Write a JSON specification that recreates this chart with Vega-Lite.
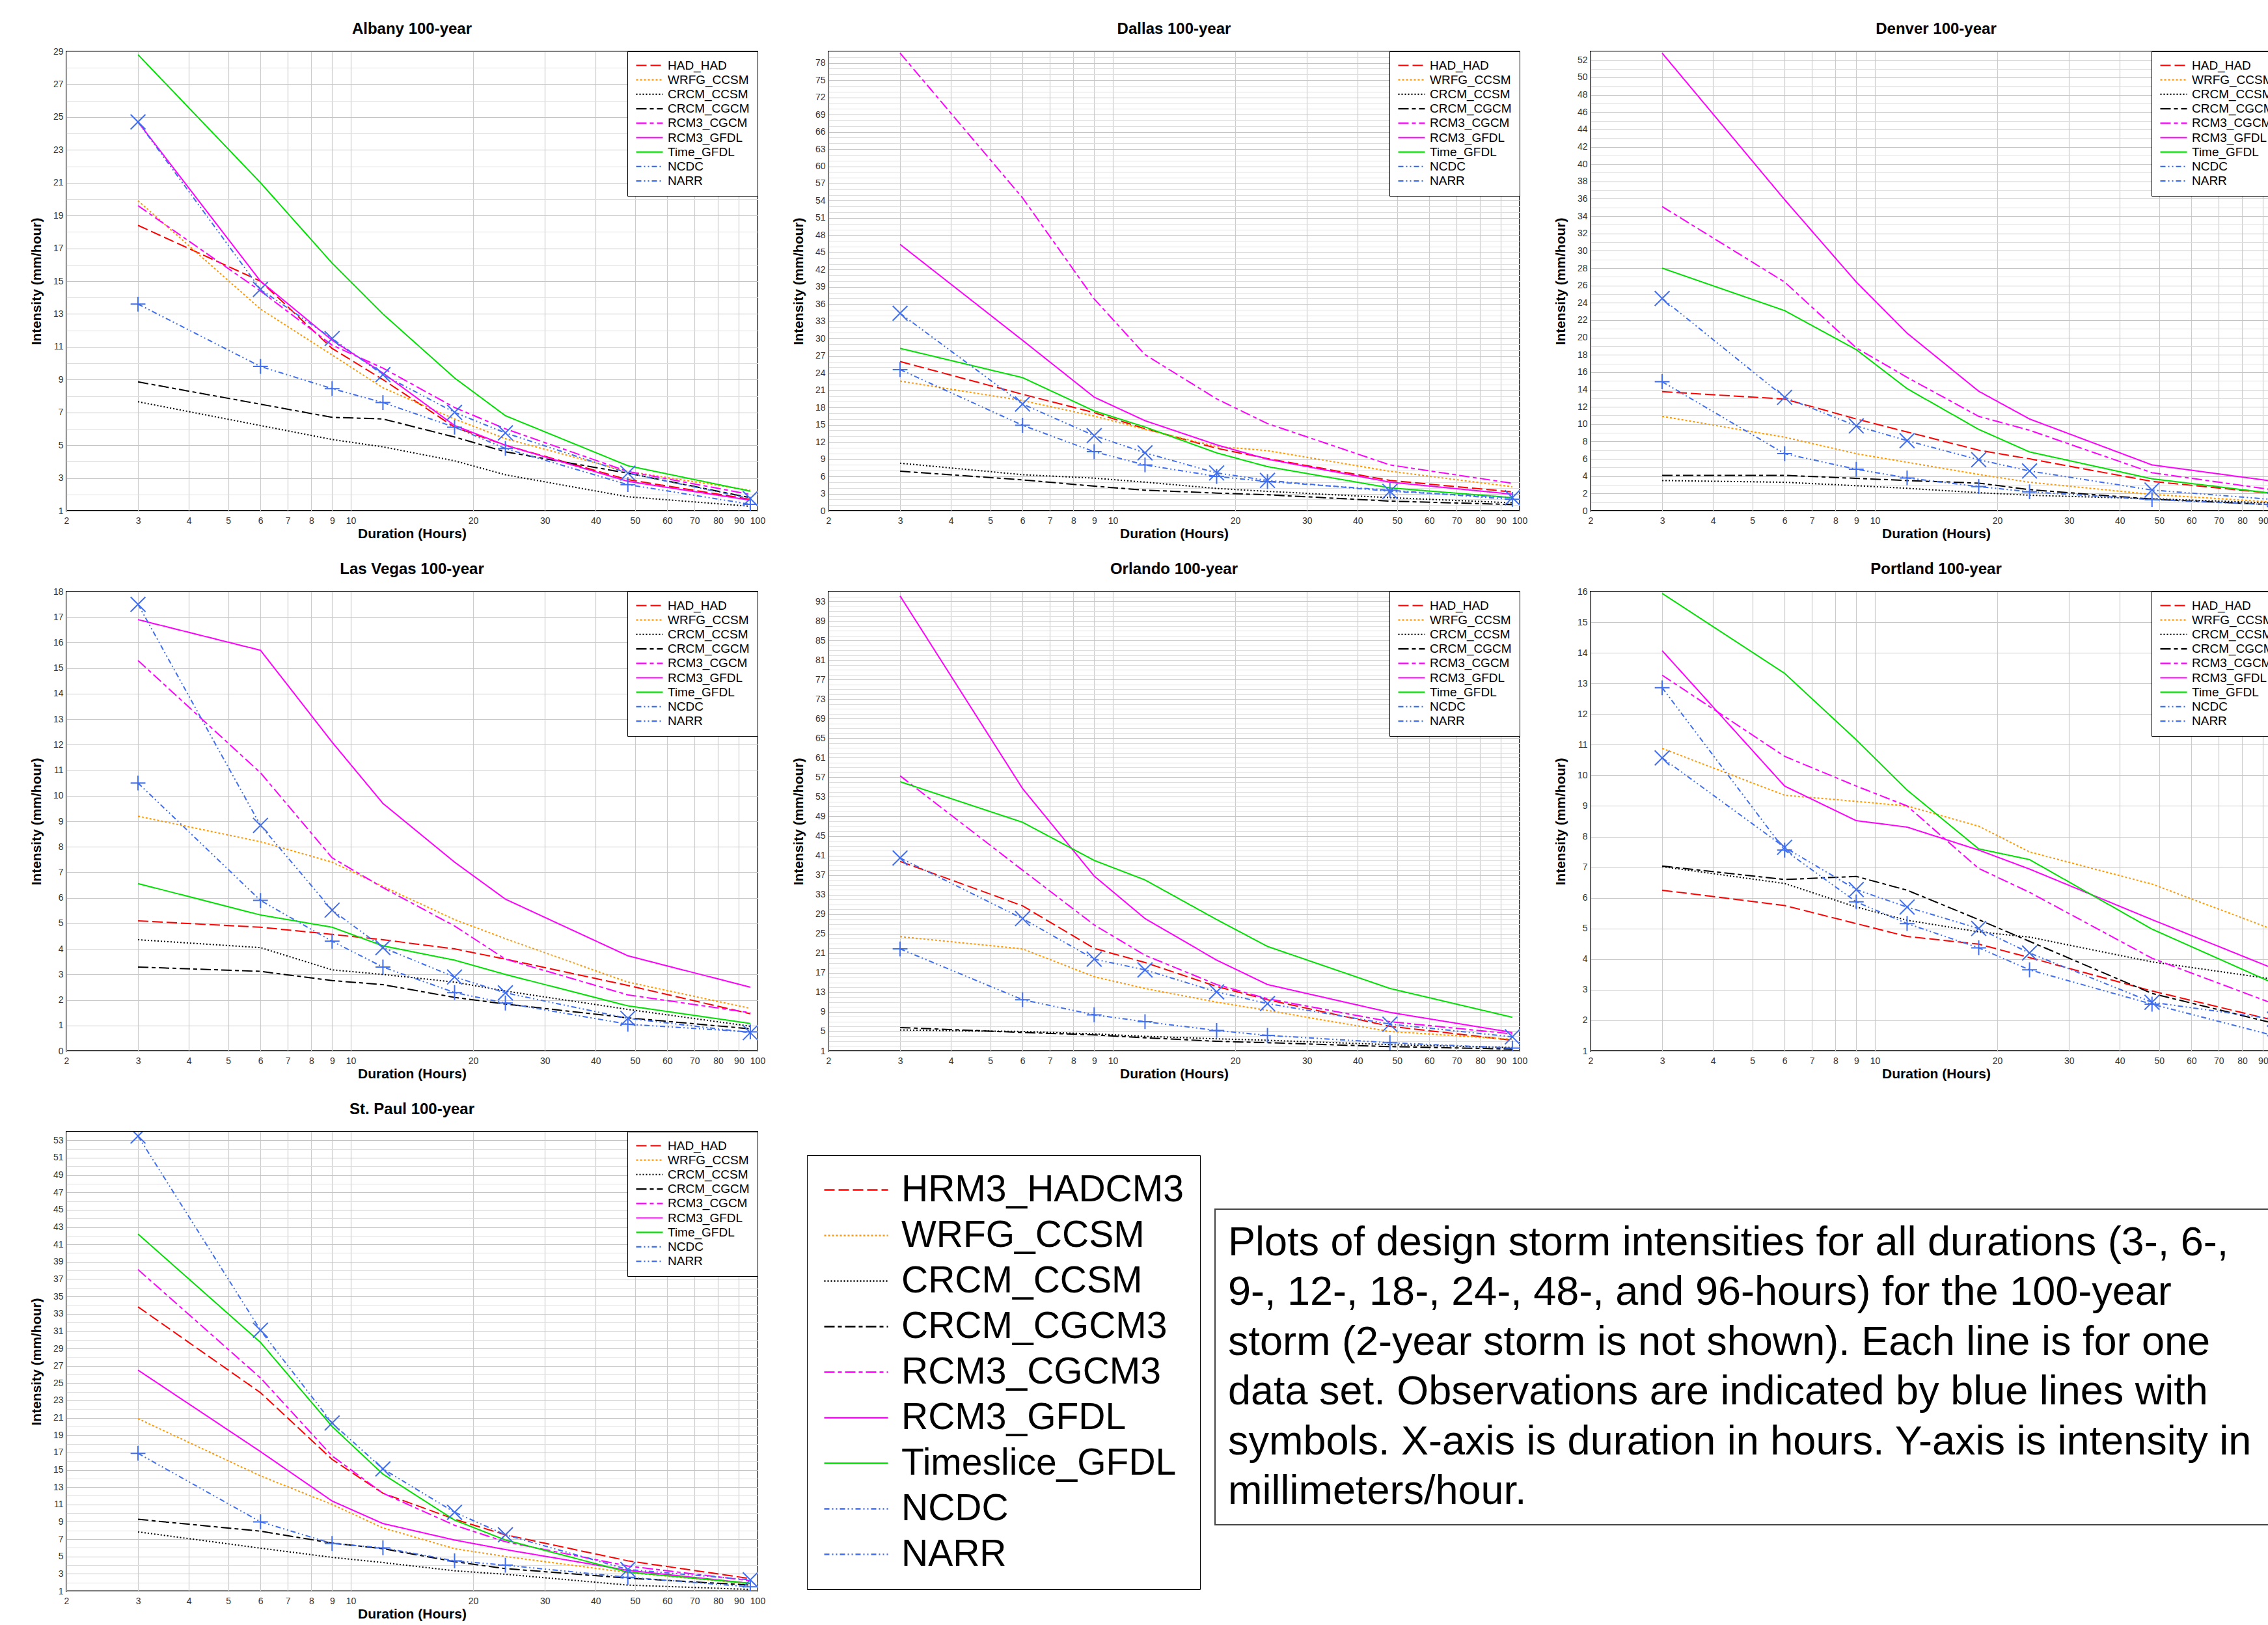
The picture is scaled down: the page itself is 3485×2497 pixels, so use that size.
{
"$schema": "https://vega.github.io/schema/vega-lite/v6.json",
"background": "white",
"padding": {"left": 44, "top": 32, "right": 0, "bottom": 0},
"config": {
  "font": "Liberation Sans",
  "view": {"stroke": "black", "strokeWidth": 2},
  "title": {"fontSize": 24, "fontWeight": "bold", "offset": 15, "frame": "group", "color": "black", "font": "Liberation Sans"},
  "axis": {"labelFontSize": 14, "labelColor": "#333333", "labelFont": "Liberation Sans", "titleFont": "Liberation Sans", "titleFontSize": 21, "titleFontWeight": "bold", "titleColor": "black", "ticks": false, "tickSize": 0, "domain": false, "gridColor": "#cccccc", "gridWidth": 1.2, "labelOverlap": false},
  "axisX": {"labelPadding": 8, "titlePadding": 2},
  "axisY": {"labelPadding": 5, "titlePadding": 11, "minExtent": 25, "maxExtent": 25},
  "legend": {"labelFont": "Liberation Sans", "labelColor": "black"}
},
"datasets": {
"names": [{"name":"HRM3_HADCM3"},{"name":"WRFG_CCSM"},{"name":"CRCM_CCSM"},{"name":"CRCM_CGCM3"},{"name":"RCM3_CGCM3"},{"name":"RCM3_GFDL"},{"name":"Timeslice_GFDL"},{"name":"NCDC"},{"name":"NARR"}],
"caption": [{"t": ["Plots of design storm intensities for all durations (3-, 6-,", "9-, 12-, 18-, 24-, 48-, and 96-hours) for the 100-year", "storm (2-year storm is not shown). Each line is for one", "data set. Observations are indicated by blue lines with", "symbols. X-axis is duration in hours. Y-axis is intensity in", "millimeters/hour."]}],
"storm": [
{"c":"Albany","s":"HAD_HAD","d":3,"v":18.4},{"c":"Albany","s":"HAD_HAD","d":6,"v":15.0},{"c":"Albany","s":"HAD_HAD","d":9,"v":10.9},{"c":"Albany","s":"HAD_HAD","d":12,"v":9.0},{"c":"Albany","s":"HAD_HAD","d":18,"v":6.1},{"c":"Albany","s":"HAD_HAD","d":24,"v":5.0},{"c":"Albany","s":"HAD_HAD","d":48,"v":2.9},{"c":"Albany","s":"HAD_HAD","d":96,"v":1.7},
{"c":"Albany","s":"WRFG_CCSM","d":3,"v":19.9},{"c":"Albany","s":"WRFG_CCSM","d":6,"v":13.3},{"c":"Albany","s":"WRFG_CCSM","d":9,"v":10.5},{"c":"Albany","s":"WRFG_CCSM","d":12,"v":8.5},{"c":"Albany","s":"WRFG_CCSM","d":18,"v":6.6},{"c":"Albany","s":"WRFG_CCSM","d":24,"v":5.4},{"c":"Albany","s":"WRFG_CCSM","d":48,"v":3.4},{"c":"Albany","s":"WRFG_CCSM","d":96,"v":2.25},
{"c":"Albany","s":"CRCM_CCSM","d":3,"v":7.65},{"c":"Albany","s":"CRCM_CCSM","d":6,"v":6.2},{"c":"Albany","s":"CRCM_CCSM","d":9,"v":5.35},{"c":"Albany","s":"CRCM_CCSM","d":12,"v":4.9},{"c":"Albany","s":"CRCM_CCSM","d":18,"v":4.05},{"c":"Albany","s":"CRCM_CCSM","d":24,"v":3.2},{"c":"Albany","s":"CRCM_CCSM","d":48,"v":1.86},{"c":"Albany","s":"CRCM_CCSM","d":96,"v":1.28},
{"c":"Albany","s":"CRCM_CGCM","d":3,"v":8.86},{"c":"Albany","s":"CRCM_CGCM","d":6,"v":7.5},{"c":"Albany","s":"CRCM_CGCM","d":9,"v":6.7},{"c":"Albany","s":"CRCM_CGCM","d":12,"v":6.6},{"c":"Albany","s":"CRCM_CGCM","d":18,"v":5.5},{"c":"Albany","s":"CRCM_CGCM","d":24,"v":4.6},{"c":"Albany","s":"CRCM_CGCM","d":48,"v":3.3},{"c":"Albany","s":"CRCM_CGCM","d":96,"v":1.8},
{"c":"Albany","s":"RCM3_CGCM","d":3,"v":19.6},{"c":"Albany","s":"RCM3_CGCM","d":6,"v":14.4},{"c":"Albany","s":"RCM3_CGCM","d":9,"v":11.1},{"c":"Albany","s":"RCM3_CGCM","d":12,"v":9.7},{"c":"Albany","s":"RCM3_CGCM","d":18,"v":7.3},{"c":"Albany","s":"RCM3_CGCM","d":24,"v":6.0},{"c":"Albany","s":"RCM3_CGCM","d":48,"v":3.4},{"c":"Albany","s":"RCM3_CGCM","d":96,"v":2.0},
{"c":"Albany","s":"RCM3_GFDL","d":3,"v":24.7},{"c":"Albany","s":"RCM3_GFDL","d":6,"v":15.0},{"c":"Albany","s":"RCM3_GFDL","d":9,"v":11.4},{"c":"Albany","s":"RCM3_GFDL","d":12,"v":9.4},{"c":"Albany","s":"RCM3_GFDL","d":18,"v":6.2},{"c":"Albany","s":"RCM3_GFDL","d":24,"v":5.0},{"c":"Albany","s":"RCM3_GFDL","d":48,"v":2.8},{"c":"Albany","s":"RCM3_GFDL","d":96,"v":1.65},
{"c":"Albany","s":"Time_GFDL","d":3,"v":28.8},{"c":"Albany","s":"Time_GFDL","d":6,"v":21.0},{"c":"Albany","s":"Time_GFDL","d":9,"v":16.1},{"c":"Albany","s":"Time_GFDL","d":12,"v":13.0},{"c":"Albany","s":"Time_GFDL","d":18,"v":9.1},{"c":"Albany","s":"Time_GFDL","d":24,"v":6.8},{"c":"Albany","s":"Time_GFDL","d":48,"v":3.75},{"c":"Albany","s":"Time_GFDL","d":96,"v":2.2},
{"c":"Albany","s":"NCDC","d":3,"v":24.7},{"c":"Albany","s":"NCDC","d":6,"v":14.5},{"c":"Albany","s":"NCDC","d":9,"v":11.5},{"c":"Albany","s":"NCDC","d":12,"v":9.3},{"c":"Albany","s":"NCDC","d":18,"v":7.0},{"c":"Albany","s":"NCDC","d":24,"v":5.75},{"c":"Albany","s":"NCDC","d":48,"v":3.3},{"c":"Albany","s":"NCDC","d":96,"v":1.75},
{"c":"Albany","s":"NARR","d":3,"v":13.6},{"c":"Albany","s":"NARR","d":6,"v":9.8},{"c":"Albany","s":"NARR","d":9,"v":8.45},{"c":"Albany","s":"NARR","d":12,"v":7.6},{"c":"Albany","s":"NARR","d":18,"v":6.1},{"c":"Albany","s":"NARR","d":24,"v":4.8},{"c":"Albany","s":"NARR","d":48,"v":2.6},{"c":"Albany","s":"NARR","d":96,"v":1.4},

{"c":"Dallas","s":"HAD_HAD","d":3,"v":26.0},{"c":"Dallas","s":"HAD_HAD","d":6,"v":20.3},{"c":"Dallas","s":"HAD_HAD","d":9,"v":17.1},{"c":"Dallas","s":"HAD_HAD","d":12,"v":14.3},{"c":"Dallas","s":"HAD_HAD","d":18,"v":10.9},{"c":"Dallas","s":"HAD_HAD","d":24,"v":9.1},{"c":"Dallas","s":"HAD_HAD","d":48,"v":5.3},{"c":"Dallas","s":"HAD_HAD","d":96,"v":3.3},
{"c":"Dallas","s":"WRFG_CCSM","d":3,"v":22.6},{"c":"Dallas","s":"WRFG_CCSM","d":6,"v":19.2},{"c":"Dallas","s":"WRFG_CCSM","d":9,"v":16.5},{"c":"Dallas","s":"WRFG_CCSM","d":12,"v":14.2},{"c":"Dallas","s":"WRFG_CCSM","d":18,"v":11.2},{"c":"Dallas","s":"WRFG_CCSM","d":24,"v":10.5},{"c":"Dallas","s":"WRFG_CCSM","d":48,"v":6.9},{"c":"Dallas","s":"WRFG_CCSM","d":96,"v":4.2},
{"c":"Dallas","s":"CRCM_CCSM","d":3,"v":8.3},{"c":"Dallas","s":"CRCM_CCSM","d":6,"v":6.3},{"c":"Dallas","s":"CRCM_CCSM","d":9,"v":5.7},{"c":"Dallas","s":"CRCM_CCSM","d":12,"v":5.0},{"c":"Dallas","s":"CRCM_CCSM","d":18,"v":3.9},{"c":"Dallas","s":"CRCM_CCSM","d":24,"v":3.4},{"c":"Dallas","s":"CRCM_CCSM","d":48,"v":2.3},{"c":"Dallas","s":"CRCM_CCSM","d":96,"v":1.4},
{"c":"Dallas","s":"CRCM_CGCM","d":3,"v":6.9},{"c":"Dallas","s":"CRCM_CGCM","d":6,"v":5.4},{"c":"Dallas","s":"CRCM_CGCM","d":9,"v":4.3},{"c":"Dallas","s":"CRCM_CGCM","d":12,"v":3.6},{"c":"Dallas","s":"CRCM_CGCM","d":18,"v":3.1},{"c":"Dallas","s":"CRCM_CGCM","d":24,"v":2.8},{"c":"Dallas","s":"CRCM_CGCM","d":48,"v":1.7},{"c":"Dallas","s":"CRCM_CGCM","d":96,"v":1.1},
{"c":"Dallas","s":"RCM3_CGCM","d":3,"v":79.7},{"c":"Dallas","s":"RCM3_CGCM","d":6,"v":54.5},{"c":"Dallas","s":"RCM3_CGCM","d":9,"v":36.9},{"c":"Dallas","s":"RCM3_CGCM","d":12,"v":27.2},{"c":"Dallas","s":"RCM3_CGCM","d":18,"v":19.5},{"c":"Dallas","s":"RCM3_CGCM","d":24,"v":15.2},{"c":"Dallas","s":"RCM3_CGCM","d":48,"v":8.0},{"c":"Dallas","s":"RCM3_CGCM","d":96,"v":4.8},
{"c":"Dallas","s":"RCM3_GFDL","d":3,"v":46.4},{"c":"Dallas","s":"RCM3_GFDL","d":6,"v":29.7},{"c":"Dallas","s":"RCM3_GFDL","d":9,"v":19.8},{"c":"Dallas","s":"RCM3_GFDL","d":12,"v":15.7},{"c":"Dallas","s":"RCM3_GFDL","d":18,"v":11.5},{"c":"Dallas","s":"RCM3_GFDL","d":24,"v":9.0},{"c":"Dallas","s":"RCM3_GFDL","d":48,"v":5.0},{"c":"Dallas","s":"RCM3_GFDL","d":96,"v":2.9},
{"c":"Dallas","s":"Time_GFDL","d":3,"v":28.3},{"c":"Dallas","s":"Time_GFDL","d":6,"v":23.2},{"c":"Dallas","s":"Time_GFDL","d":9,"v":17.4},{"c":"Dallas","s":"Time_GFDL","d":12,"v":14.6},{"c":"Dallas","s":"Time_GFDL","d":18,"v":10.1},{"c":"Dallas","s":"Time_GFDL","d":24,"v":7.7},{"c":"Dallas","s":"Time_GFDL","d":48,"v":4.0},{"c":"Dallas","s":"Time_GFDL","d":96,"v":2.3},
{"c":"Dallas","s":"NCDC","d":3,"v":34.4},{"c":"Dallas","s":"NCDC","d":6,"v":18.6},{"c":"Dallas","s":"NCDC","d":9,"v":13.1},{"c":"Dallas","s":"NCDC","d":12,"v":10.1},{"c":"Dallas","s":"NCDC","d":18,"v":6.6},{"c":"Dallas","s":"NCDC","d":24,"v":5.3},{"c":"Dallas","s":"NCDC","d":48,"v":3.4},{"c":"Dallas","s":"NCDC","d":96,"v":2.3},
{"c":"Dallas","s":"NARR","d":3,"v":24.6},{"c":"Dallas","s":"NARR","d":6,"v":14.9},{"c":"Dallas","s":"NARR","d":9,"v":10.3},{"c":"Dallas","s":"NARR","d":12,"v":8.0},{"c":"Dallas","s":"NARR","d":18,"v":6.0},{"c":"Dallas","s":"NARR","d":24,"v":5.1},{"c":"Dallas","s":"NARR","d":48,"v":3.6},{"c":"Dallas","s":"NARR","d":96,"v":2.0},

{"c":"Denver","s":"HAD_HAD","d":3,"v":13.75},{"c":"Denver","s":"HAD_HAD","d":6,"v":12.9},{"c":"Denver","s":"HAD_HAD","d":9,"v":10.6},{"c":"Denver","s":"HAD_HAD","d":12,"v":9.1},{"c":"Denver","s":"HAD_HAD","d":18,"v":7.0},{"c":"Denver","s":"HAD_HAD","d":24,"v":6.0},{"c":"Denver","s":"HAD_HAD","d":48,"v":3.4},{"c":"Denver","s":"HAD_HAD","d":96,"v":2.0},
{"c":"Denver","s":"WRFG_CCSM","d":3,"v":10.9},{"c":"Denver","s":"WRFG_CCSM","d":6,"v":8.5},{"c":"Denver","s":"WRFG_CCSM","d":9,"v":6.6},{"c":"Denver","s":"WRFG_CCSM","d":12,"v":5.6},{"c":"Denver","s":"WRFG_CCSM","d":18,"v":4.2},{"c":"Denver","s":"WRFG_CCSM","d":24,"v":3.3},{"c":"Denver","s":"WRFG_CCSM","d":48,"v":1.9},{"c":"Denver","s":"WRFG_CCSM","d":96,"v":1.0},
{"c":"Denver","s":"CRCM_CCSM","d":3,"v":3.5},{"c":"Denver","s":"CRCM_CCSM","d":6,"v":3.3},{"c":"Denver","s":"CRCM_CCSM","d":9,"v":2.9},{"c":"Denver","s":"CRCM_CCSM","d":12,"v":2.6},{"c":"Denver","s":"CRCM_CCSM","d":18,"v":2.1},{"c":"Denver","s":"CRCM_CCSM","d":24,"v":1.8},{"c":"Denver","s":"CRCM_CCSM","d":48,"v":1.4},{"c":"Denver","s":"CRCM_CCSM","d":96,"v":0.9},
{"c":"Denver","s":"CRCM_CGCM","d":3,"v":4.1},{"c":"Denver","s":"CRCM_CGCM","d":6,"v":4.1},{"c":"Denver","s":"CRCM_CGCM","d":9,"v":3.75},{"c":"Denver","s":"CRCM_CGCM","d":12,"v":3.5},{"c":"Denver","s":"CRCM_CGCM","d":18,"v":3.2},{"c":"Denver","s":"CRCM_CGCM","d":24,"v":2.45},{"c":"Denver","s":"CRCM_CGCM","d":48,"v":1.35},{"c":"Denver","s":"CRCM_CGCM","d":96,"v":0.7},
{"c":"Denver","s":"RCM3_CGCM","d":3,"v":35.1},{"c":"Denver","s":"RCM3_CGCM","d":6,"v":26.4},{"c":"Denver","s":"RCM3_CGCM","d":9,"v":18.8},{"c":"Denver","s":"RCM3_CGCM","d":12,"v":15.4},{"c":"Denver","s":"RCM3_CGCM","d":18,"v":10.9},{"c":"Denver","s":"RCM3_CGCM","d":24,"v":9.3},{"c":"Denver","s":"RCM3_CGCM","d":48,"v":4.4},{"c":"Denver","s":"RCM3_CGCM","d":96,"v":2.4},
{"c":"Denver","s":"RCM3_GFDL","d":3,"v":52.8},{"c":"Denver","s":"RCM3_GFDL","d":6,"v":35.9},{"c":"Denver","s":"RCM3_GFDL","d":9,"v":26.4},{"c":"Denver","s":"RCM3_GFDL","d":12,"v":20.5},{"c":"Denver","s":"RCM3_GFDL","d":18,"v":13.8},{"c":"Denver","s":"RCM3_GFDL","d":24,"v":10.6},{"c":"Denver","s":"RCM3_GFDL","d":48,"v":5.3},{"c":"Denver","s":"RCM3_GFDL","d":96,"v":3.4},
{"c":"Denver","s":"Time_GFDL","d":3,"v":28.0},{"c":"Denver","s":"Time_GFDL","d":6,"v":23.1},{"c":"Denver","s":"Time_GFDL","d":9,"v":18.6},{"c":"Denver","s":"Time_GFDL","d":12,"v":14.1},{"c":"Denver","s":"Time_GFDL","d":18,"v":9.4},{"c":"Denver","s":"Time_GFDL","d":24,"v":6.8},{"c":"Denver","s":"Time_GFDL","d":48,"v":3.7},{"c":"Denver","s":"Time_GFDL","d":96,"v":2.0},
{"c":"Denver","s":"NCDC","d":3,"v":24.5},{"c":"Denver","s":"NCDC","d":6,"v":13.1},{"c":"Denver","s":"NCDC","d":9,"v":9.8},{"c":"Denver","s":"NCDC","d":12,"v":8.1},{"c":"Denver","s":"NCDC","d":18,"v":5.9},{"c":"Denver","s":"NCDC","d":24,"v":4.6},{"c":"Denver","s":"NCDC","d":48,"v":2.4},{"c":"Denver","s":"NCDC","d":96,"v":1.3},
{"c":"Denver","s":"NARR","d":3,"v":14.9},{"c":"Denver","s":"NARR","d":6,"v":6.6},{"c":"Denver","s":"NARR","d":9,"v":4.8},{"c":"Denver","s":"NARR","d":12,"v":3.8},{"c":"Denver","s":"NARR","d":18,"v":2.8},{"c":"Denver","s":"NARR","d":24,"v":2.2},{"c":"Denver","s":"NARR","d":48,"v":1.3},{"c":"Denver","s":"NARR","d":96,"v":0.7},

{"c":"Las Vegas","s":"HAD_HAD","d":3,"v":5.1},{"c":"Las Vegas","s":"HAD_HAD","d":6,"v":4.85},{"c":"Las Vegas","s":"HAD_HAD","d":9,"v":4.57},{"c":"Las Vegas","s":"HAD_HAD","d":12,"v":4.36},{"c":"Las Vegas","s":"HAD_HAD","d":18,"v":4.0},{"c":"Las Vegas","s":"HAD_HAD","d":24,"v":3.6},{"c":"Las Vegas","s":"HAD_HAD","d":48,"v":2.57},{"c":"Las Vegas","s":"HAD_HAD","d":96,"v":1.46},
{"c":"Las Vegas","s":"WRFG_CCSM","d":3,"v":9.2},{"c":"Las Vegas","s":"WRFG_CCSM","d":6,"v":8.2},{"c":"Las Vegas","s":"WRFG_CCSM","d":9,"v":7.4},{"c":"Las Vegas","s":"WRFG_CCSM","d":12,"v":6.45},{"c":"Las Vegas","s":"WRFG_CCSM","d":18,"v":5.15},{"c":"Las Vegas","s":"WRFG_CCSM","d":24,"v":4.4},{"c":"Las Vegas","s":"WRFG_CCSM","d":48,"v":2.7},{"c":"Las Vegas","s":"WRFG_CCSM","d":96,"v":1.67},
{"c":"Las Vegas","s":"CRCM_CCSM","d":3,"v":4.36},{"c":"Las Vegas","s":"CRCM_CCSM","d":6,"v":4.05},{"c":"Las Vegas","s":"CRCM_CCSM","d":9,"v":3.18},{"c":"Las Vegas","s":"CRCM_CCSM","d":12,"v":3.0},{"c":"Las Vegas","s":"CRCM_CCSM","d":18,"v":2.7},{"c":"Las Vegas","s":"CRCM_CCSM","d":24,"v":2.35},{"c":"Las Vegas","s":"CRCM_CCSM","d":48,"v":1.63},{"c":"Las Vegas","s":"CRCM_CCSM","d":96,"v":0.97},
{"c":"Las Vegas","s":"CRCM_CGCM","d":3,"v":3.29},{"c":"Las Vegas","s":"CRCM_CGCM","d":6,"v":3.12},{"c":"Las Vegas","s":"CRCM_CGCM","d":9,"v":2.76},{"c":"Las Vegas","s":"CRCM_CGCM","d":12,"v":2.6},{"c":"Las Vegas","s":"CRCM_CGCM","d":18,"v":2.1},{"c":"Las Vegas","s":"CRCM_CGCM","d":24,"v":1.84},{"c":"Las Vegas","s":"CRCM_CGCM","d":48,"v":1.3},{"c":"Las Vegas","s":"CRCM_CGCM","d":96,"v":0.87},
{"c":"Las Vegas","s":"RCM3_CGCM","d":3,"v":15.3},{"c":"Las Vegas","s":"RCM3_CGCM","d":6,"v":10.9},{"c":"Las Vegas","s":"RCM3_CGCM","d":9,"v":7.57},{"c":"Las Vegas","s":"RCM3_CGCM","d":12,"v":6.4},{"c":"Las Vegas","s":"RCM3_CGCM","d":18,"v":4.9},{"c":"Las Vegas","s":"RCM3_CGCM","d":24,"v":3.6},{"c":"Las Vegas","s":"RCM3_CGCM","d":48,"v":2.2},{"c":"Las Vegas","s":"RCM3_CGCM","d":96,"v":1.5},
{"c":"Las Vegas","s":"RCM3_GFDL","d":3,"v":16.9},{"c":"Las Vegas","s":"RCM3_GFDL","d":6,"v":15.7},{"c":"Las Vegas","s":"RCM3_GFDL","d":9,"v":12.1},{"c":"Las Vegas","s":"RCM3_GFDL","d":12,"v":9.7},{"c":"Las Vegas","s":"RCM3_GFDL","d":18,"v":7.4},{"c":"Las Vegas","s":"RCM3_GFDL","d":24,"v":5.95},{"c":"Las Vegas","s":"RCM3_GFDL","d":48,"v":3.73},{"c":"Las Vegas","s":"RCM3_GFDL","d":96,"v":2.5},
{"c":"Las Vegas","s":"Time_GFDL","d":3,"v":6.56},{"c":"Las Vegas","s":"Time_GFDL","d":6,"v":5.33},{"c":"Las Vegas","s":"Time_GFDL","d":9,"v":4.85},{"c":"Las Vegas","s":"Time_GFDL","d":12,"v":4.12},{"c":"Las Vegas","s":"Time_GFDL","d":18,"v":3.56},{"c":"Las Vegas","s":"Time_GFDL","d":24,"v":3.0},{"c":"Las Vegas","s":"Time_GFDL","d":48,"v":1.77},{"c":"Las Vegas","s":"Time_GFDL","d":96,"v":1.08},
{"c":"Las Vegas","s":"NCDC","d":3,"v":17.5},{"c":"Las Vegas","s":"NCDC","d":6,"v":8.84},{"c":"Las Vegas","s":"NCDC","d":9,"v":5.52},{"c":"Las Vegas","s":"NCDC","d":12,"v":4.05},{"c":"Las Vegas","s":"NCDC","d":18,"v":2.9},{"c":"Las Vegas","s":"NCDC","d":24,"v":2.28},{"c":"Las Vegas","s":"NCDC","d":48,"v":1.28},{"c":"Las Vegas","s":"NCDC","d":96,"v":0.72},
{"c":"Las Vegas","s":"NARR","d":3,"v":10.5},{"c":"Las Vegas","s":"NARR","d":6,"v":5.9},{"c":"Las Vegas","s":"NARR","d":9,"v":4.3},{"c":"Las Vegas","s":"NARR","d":12,"v":3.29},{"c":"Las Vegas","s":"NARR","d":18,"v":2.29},{"c":"Las Vegas","s":"NARR","d":24,"v":1.88},{"c":"Las Vegas","s":"NARR","d":48,"v":1.05},{"c":"Las Vegas","s":"NARR","d":96,"v":0.75},

{"c":"Orlando","s":"HAD_HAD","d":3,"v":39.8},{"c":"Orlando","s":"HAD_HAD","d":6,"v":30.7},{"c":"Orlando","s":"HAD_HAD","d":9,"v":22.0},{"c":"Orlando","s":"HAD_HAD","d":12,"v":19.1},{"c":"Orlando","s":"HAD_HAD","d":18,"v":14.2},{"c":"Orlando","s":"HAD_HAD","d":24,"v":11.5},{"c":"Orlando","s":"HAD_HAD","d":48,"v":6.05},{"c":"Orlando","s":"HAD_HAD","d":96,"v":3.2},
{"c":"Orlando","s":"WRFG_CCSM","d":3,"v":24.4},{"c":"Orlando","s":"WRFG_CCSM","d":6,"v":21.9},{"c":"Orlando","s":"WRFG_CCSM","d":9,"v":16.2},{"c":"Orlando","s":"WRFG_CCSM","d":12,"v":13.8},{"c":"Orlando","s":"WRFG_CCSM","d":18,"v":11.0},{"c":"Orlando","s":"WRFG_CCSM","d":24,"v":9.3},{"c":"Orlando","s":"WRFG_CCSM","d":48,"v":5.0},{"c":"Orlando","s":"WRFG_CCSM","d":96,"v":3.4},
{"c":"Orlando","s":"CRCM_CCSM","d":3,"v":5.3},{"c":"Orlando","s":"CRCM_CCSM","d":6,"v":5.0},{"c":"Orlando","s":"CRCM_CCSM","d":9,"v":4.5},{"c":"Orlando","s":"CRCM_CCSM","d":12,"v":4.0},{"c":"Orlando","s":"CRCM_CCSM","d":18,"v":3.5},{"c":"Orlando","s":"CRCM_CCSM","d":24,"v":3.2},{"c":"Orlando","s":"CRCM_CCSM","d":48,"v":2.3},{"c":"Orlando","s":"CRCM_CCSM","d":96,"v":1.7},
{"c":"Orlando","s":"CRCM_CGCM","d":3,"v":5.8},{"c":"Orlando","s":"CRCM_CGCM","d":6,"v":4.8},{"c":"Orlando","s":"CRCM_CGCM","d":9,"v":4.3},{"c":"Orlando","s":"CRCM_CGCM","d":12,"v":3.7},{"c":"Orlando","s":"CRCM_CGCM","d":18,"v":3.0},{"c":"Orlando","s":"CRCM_CGCM","d":24,"v":2.7},{"c":"Orlando","s":"CRCM_CGCM","d":48,"v":1.9},{"c":"Orlando","s":"CRCM_CGCM","d":96,"v":1.4},
{"c":"Orlando","s":"RCM3_CGCM","d":3,"v":57.3},{"c":"Orlando","s":"RCM3_CGCM","d":6,"v":38.0},{"c":"Orlando","s":"RCM3_CGCM","d":9,"v":26.8},{"c":"Orlando","s":"RCM3_CGCM","d":12,"v":20.6},{"c":"Orlando","s":"RCM3_CGCM","d":18,"v":14.6},{"c":"Orlando","s":"RCM3_CGCM","d":24,"v":11.7},{"c":"Orlando","s":"RCM3_CGCM","d":48,"v":7.0},{"c":"Orlando","s":"RCM3_CGCM","d":96,"v":4.5},
{"c":"Orlando","s":"RCM3_GFDL","d":3,"v":94.1},{"c":"Orlando","s":"RCM3_GFDL","d":6,"v":54.7},{"c":"Orlando","s":"RCM3_GFDL","d":9,"v":36.8},{"c":"Orlando","s":"RCM3_GFDL","d":12,"v":28.1},{"c":"Orlando","s":"RCM3_GFDL","d":18,"v":19.6},{"c":"Orlando","s":"RCM3_GFDL","d":24,"v":14.6},{"c":"Orlando","s":"RCM3_GFDL","d":48,"v":8.9},{"c":"Orlando","s":"RCM3_GFDL","d":96,"v":4.8},
{"c":"Orlando","s":"Time_GFDL","d":3,"v":56.1},{"c":"Orlando","s":"Time_GFDL","d":6,"v":47.8},{"c":"Orlando","s":"Time_GFDL","d":9,"v":40.0},{"c":"Orlando","s":"Time_GFDL","d":12,"v":36.0},{"c":"Orlando","s":"Time_GFDL","d":18,"v":27.9},{"c":"Orlando","s":"Time_GFDL","d":24,"v":22.4},{"c":"Orlando","s":"Time_GFDL","d":48,"v":13.8},{"c":"Orlando","s":"Time_GFDL","d":96,"v":7.9},
{"c":"Orlando","s":"NCDC","d":3,"v":40.5},{"c":"Orlando","s":"NCDC","d":6,"v":28.1},{"c":"Orlando","s":"NCDC","d":9,"v":19.8},{"c":"Orlando","s":"NCDC","d":12,"v":17.6},{"c":"Orlando","s":"NCDC","d":18,"v":13.1},{"c":"Orlando","s":"NCDC","d":24,"v":10.7},{"c":"Orlando","s":"NCDC","d":48,"v":6.5},{"c":"Orlando","s":"NCDC","d":96,"v":3.9},
{"c":"Orlando","s":"NARR","d":3,"v":21.9},{"c":"Orlando","s":"NARR","d":6,"v":11.5},{"c":"Orlando","s":"NARR","d":9,"v":8.4},{"c":"Orlando","s":"NARR","d":12,"v":7.0},{"c":"Orlando","s":"NARR","d":18,"v":5.2},{"c":"Orlando","s":"NARR","d":24,"v":4.2},{"c":"Orlando","s":"NARR","d":48,"v":2.7},{"c":"Orlando","s":"NARR","d":96,"v":1.6},

{"c":"Portland","s":"HAD_HAD","d":3,"v":6.25},{"c":"Portland","s":"HAD_HAD","d":6,"v":5.75},{"c":"Portland","s":"HAD_HAD","d":9,"v":5.16},{"c":"Portland","s":"HAD_HAD","d":12,"v":4.74},{"c":"Portland","s":"HAD_HAD","d":18,"v":4.49},{"c":"Portland","s":"HAD_HAD","d":24,"v":4.05},{"c":"Portland","s":"HAD_HAD","d":48,"v":2.96},{"c":"Portland","s":"HAD_HAD","d":96,"v":2.0},
{"c":"Portland","s":"WRFG_CCSM","d":3,"v":10.88},{"c":"Portland","s":"WRFG_CCSM","d":6,"v":9.35},{"c":"Portland","s":"WRFG_CCSM","d":9,"v":9.15},{"c":"Portland","s":"WRFG_CCSM","d":12,"v":9.0},{"c":"Portland","s":"WRFG_CCSM","d":18,"v":8.34},{"c":"Portland","s":"WRFG_CCSM","d":24,"v":7.5},{"c":"Portland","s":"WRFG_CCSM","d":48,"v":6.45},{"c":"Portland","s":"WRFG_CCSM","d":96,"v":4.95},
{"c":"Portland","s":"CRCM_CCSM","d":3,"v":7.02},{"c":"Portland","s":"CRCM_CCSM","d":6,"v":6.47},{"c":"Portland","s":"CRCM_CCSM","d":9,"v":5.7},{"c":"Portland","s":"CRCM_CCSM","d":12,"v":5.27},{"c":"Portland","s":"CRCM_CCSM","d":18,"v":4.89},{"c":"Portland","s":"CRCM_CCSM","d":24,"v":4.72},{"c":"Portland","s":"CRCM_CCSM","d":48,"v":3.91},{"c":"Portland","s":"CRCM_CCSM","d":96,"v":3.34},
{"c":"Portland","s":"CRCM_CGCM","d":3,"v":7.04},{"c":"Portland","s":"CRCM_CGCM","d":6,"v":6.6},{"c":"Portland","s":"CRCM_CGCM","d":9,"v":6.7},{"c":"Portland","s":"CRCM_CGCM","d":12,"v":6.25},{"c":"Portland","s":"CRCM_CGCM","d":18,"v":5.29},{"c":"Portland","s":"CRCM_CGCM","d":24,"v":4.58},{"c":"Portland","s":"CRCM_CGCM","d":48,"v":2.88},{"c":"Portland","s":"CRCM_CGCM","d":96,"v":1.9},
{"c":"Portland","s":"RCM3_CGCM","d":3,"v":13.27},{"c":"Portland","s":"RCM3_CGCM","d":6,"v":10.62},{"c":"Portland","s":"RCM3_CGCM","d":9,"v":9.65},{"c":"Portland","s":"RCM3_CGCM","d":12,"v":9.0},{"c":"Portland","s":"RCM3_CGCM","d":18,"v":6.96},{"c":"Portland","s":"RCM3_CGCM","d":24,"v":6.18},{"c":"Portland","s":"RCM3_CGCM","d":48,"v":4.03},{"c":"Portland","s":"RCM3_CGCM","d":96,"v":2.53},
{"c":"Portland","s":"RCM3_GFDL","d":3,"v":14.07},{"c":"Portland","s":"RCM3_GFDL","d":6,"v":9.65},{"c":"Portland","s":"RCM3_GFDL","d":9,"v":8.52},{"c":"Portland","s":"RCM3_GFDL","d":12,"v":8.31},{"c":"Portland","s":"RCM3_GFDL","d":18,"v":7.56},{"c":"Portland","s":"RCM3_GFDL","d":24,"v":6.94},{"c":"Portland","s":"RCM3_GFDL","d":48,"v":5.29},{"c":"Portland","s":"RCM3_GFDL","d":96,"v":3.68},
{"c":"Portland","s":"Time_GFDL","d":3,"v":15.94},{"c":"Portland","s":"Time_GFDL","d":6,"v":13.33},{"c":"Portland","s":"Time_GFDL","d":9,"v":11.16},{"c":"Portland","s":"Time_GFDL","d":12,"v":9.52},{"c":"Portland","s":"Time_GFDL","d":18,"v":7.6},{"c":"Portland","s":"Time_GFDL","d":24,"v":7.25},{"c":"Portland","s":"Time_GFDL","d":48,"v":4.98},{"c":"Portland","s":"Time_GFDL","d":96,"v":3.2},
{"c":"Portland","s":"NCDC","d":3,"v":10.57},{"c":"Portland","s":"NCDC","d":6,"v":7.65},{"c":"Portland","s":"NCDC","d":9,"v":6.27},{"c":"Portland","s":"NCDC","d":12,"v":5.7},{"c":"Portland","s":"NCDC","d":18,"v":5.0},{"c":"Portland","s":"NCDC","d":24,"v":4.2},{"c":"Portland","s":"NCDC","d":48,"v":2.59},{"c":"Portland","s":"NCDC","d":96,"v":2.04},
{"c":"Portland","s":"NARR","d":3,"v":12.86},{"c":"Portland","s":"NARR","d":6,"v":7.56},{"c":"Portland","s":"NARR","d":9,"v":5.87},{"c":"Portland","s":"NARR","d":12,"v":5.16},{"c":"Portland","s":"NARR","d":18,"v":4.37},{"c":"Portland","s":"NARR","d":24,"v":3.65},{"c":"Portland","s":"NARR","d":48,"v":2.53},{"c":"Portland","s":"NARR","d":96,"v":1.5},

{"c":"St. Paul","s":"HAD_HAD","d":3,"v":33.8},{"c":"St. Paul","s":"HAD_HAD","d":6,"v":23.9},{"c":"St. Paul","s":"HAD_HAD","d":9,"v":16.2},{"c":"St. Paul","s":"HAD_HAD","d":12,"v":12.3},{"c":"St. Paul","s":"HAD_HAD","d":18,"v":9.3},{"c":"St. Paul","s":"HAD_HAD","d":24,"v":7.5},{"c":"St. Paul","s":"HAD_HAD","d":48,"v":4.5},{"c":"St. Paul","s":"HAD_HAD","d":96,"v":2.45},
{"c":"St. Paul","s":"WRFG_CCSM","d":3,"v":20.9},{"c":"St. Paul","s":"WRFG_CCSM","d":6,"v":14.3},{"c":"St. Paul","s":"WRFG_CCSM","d":9,"v":11.0},{"c":"St. Paul","s":"WRFG_CCSM","d":12,"v":8.3},{"c":"St. Paul","s":"WRFG_CCSM","d":18,"v":5.9},{"c":"St. Paul","s":"WRFG_CCSM","d":24,"v":5.0},{"c":"St. Paul","s":"WRFG_CCSM","d":48,"v":3.15},{"c":"St. Paul","s":"WRFG_CCSM","d":96,"v":1.86},
{"c":"St. Paul","s":"CRCM_CCSM","d":3,"v":7.84},{"c":"St. Paul","s":"CRCM_CCSM","d":6,"v":5.96},{"c":"St. Paul","s":"CRCM_CCSM","d":9,"v":4.9},{"c":"St. Paul","s":"CRCM_CCSM","d":12,"v":4.3},{"c":"St. Paul","s":"CRCM_CCSM","d":18,"v":3.35},{"c":"St. Paul","s":"CRCM_CCSM","d":24,"v":2.95},{"c":"St. Paul","s":"CRCM_CCSM","d":48,"v":1.7},{"c":"St. Paul","s":"CRCM_CCSM","d":96,"v":1.2},
{"c":"St. Paul","s":"CRCM_CGCM","d":3,"v":9.29},{"c":"St. Paul","s":"CRCM_CGCM","d":6,"v":7.92},{"c":"St. Paul","s":"CRCM_CGCM","d":9,"v":6.55},{"c":"St. Paul","s":"CRCM_CGCM","d":12,"v":5.9},{"c":"St. Paul","s":"CRCM_CGCM","d":18,"v":4.4},{"c":"St. Paul","s":"CRCM_CGCM","d":24,"v":3.6},{"c":"St. Paul","s":"CRCM_CGCM","d":48,"v":2.5},{"c":"St. Paul","s":"CRCM_CGCM","d":96,"v":1.7},
{"c":"St. Paul","s":"RCM3_CGCM","d":3,"v":38.1},{"c":"St. Paul","s":"RCM3_CGCM","d":6,"v":25.6},{"c":"St. Paul","s":"RCM3_CGCM","d":9,"v":16.6},{"c":"St. Paul","s":"RCM3_CGCM","d":12,"v":12.3},{"c":"St. Paul","s":"RCM3_CGCM","d":18,"v":8.6},{"c":"St. Paul","s":"RCM3_CGCM","d":24,"v":6.7},{"c":"St. Paul","s":"RCM3_CGCM","d":48,"v":3.9},{"c":"St. Paul","s":"RCM3_CGCM","d":96,"v":2.2},
{"c":"St. Paul","s":"RCM3_GFDL","d":3,"v":26.5},{"c":"St. Paul","s":"RCM3_GFDL","d":6,"v":17.1},{"c":"St. Paul","s":"RCM3_GFDL","d":9,"v":11.4},{"c":"St. Paul","s":"RCM3_GFDL","d":12,"v":8.8},{"c":"St. Paul","s":"RCM3_GFDL","d":18,"v":6.9},{"c":"St. Paul","s":"RCM3_GFDL","d":24,"v":5.8},{"c":"St. Paul","s":"RCM3_GFDL","d":48,"v":3.4},{"c":"St. Paul","s":"RCM3_GFDL","d":96,"v":1.9},
{"c":"St. Paul","s":"Time_GFDL","d":3,"v":42.2},{"c":"St. Paul","s":"Time_GFDL","d":6,"v":29.7},{"c":"St. Paul","s":"Time_GFDL","d":9,"v":20.0},{"c":"St. Paul","s":"Time_GFDL","d":12,"v":14.5},{"c":"St. Paul","s":"Time_GFDL","d":18,"v":9.2},{"c":"St. Paul","s":"Time_GFDL","d":24,"v":6.9},{"c":"St. Paul","s":"Time_GFDL","d":48,"v":3.2},{"c":"St. Paul","s":"Time_GFDL","d":96,"v":1.9},
{"c":"St. Paul","s":"NCDC","d":3,"v":53.5},{"c":"St. Paul","s":"NCDC","d":6,"v":31.1},{"c":"St. Paul","s":"NCDC","d":9,"v":20.4},{"c":"St. Paul","s":"NCDC","d":12,"v":15.1},{"c":"St. Paul","s":"NCDC","d":18,"v":10.1},{"c":"St. Paul","s":"NCDC","d":24,"v":7.5},{"c":"St. Paul","s":"NCDC","d":48,"v":3.5},{"c":"St. Paul","s":"NCDC","d":96,"v":2.3},
{"c":"St. Paul","s":"NARR","d":3,"v":16.9},{"c":"St. Paul","s":"NARR","d":6,"v":9.0},{"c":"St. Paul","s":"NARR","d":9,"v":6.5},{"c":"St. Paul","s":"NARR","d":12,"v":6.0},{"c":"St. Paul","s":"NARR","d":18,"v":4.5},{"c":"St. Paul","s":"NARR","d":24,"v":4.0},{"c":"St. Paul","s":"NARR","d":48,"v":2.6},{"c":"St. Paul","s":"NARR","d":96,"v":1.5}
]
},
"spacing": 31,
"resolve": {"scale": {"color": "independent", "strokeDash": "independent", "shape": "independent"}},
"vconcat": [
{
"spacing": 38,
"resolve": {"scale": {"color": "independent", "strokeDash": "independent", "shape": "independent"}},
"hconcat": [
{
"title": "Albany 100-year", "width": 1062, "height": 706,
"data": {"name": "storm"},
"transform": [{"filter": "datum.c == 'Albany'"}],
"encoding": {
 "x": {"field": "d", "type": "quantitative", "title": "Duration (Hours)", "scale": {"type": "log", "domain": [2, 100], "nice": false}, "axis": {"values": [2,3,4,5,6,7,8,9,10,20,30,40,50,60,70,80,90,100], "format": "d", "labelFlush": false}},
 "y": {"field": "v", "type": "quantitative", "title": "Intensity (mm/hour)", "scale": {"domain": [1, 29], "nice": false, "zero": false}, "axis": {"values": [1,2,3,4,5,6,7,8,9,10,11,12,13,14,15,16,17,18,19,20,21,22,23,24,25,26,27,28,29], "labelExpr": "datum.value % 2 == 1 ? datum.label : ''", "gridColor": {"condition": {"test": "datum.value % 2 == 1", "value": "#c4c4c4"}, "value": "#dedede"}}},
 "color": {"field": "s", "type": "nominal", "scale": {"domain": ["HAD_HAD","WRFG_CCSM","CRCM_CCSM","CRCM_CGCM","RCM3_CGCM","RCM3_GFDL","Time_GFDL","NCDC","NARR"], "range": ["#ff0000","#ff9900","#000000","#000000","#ff00ff","#ff00ff","#00e000","#3f6ff0","#3f6ff0"]}, "legend": {"title": null, "orient": "top-right", "offset": 0, "padding": 12, "fillColor": "white", "strokeColor": "black", "symbolType": "stroke", "symbolSize": 1681, "symbolStrokeWidth": 2.2, "clipHeight": 19, "labelFontSize": 19, "rowPadding": 2.2, "labelOffset": 6, "labelLimit": 300}}
},
"layer": [
 {"mark": {"type": "line", "strokeWidth": 2, "clip": true}, "encoding": {"strokeDash": {"field": "s", "type": "nominal", "scale": {"domain": ["HAD_HAD","WRFG_CCSM","CRCM_CCSM","CRCM_CGCM","RCM3_CGCM","RCM3_GFDL","Time_GFDL","NCDC","NARR"], "range": [[16,6],[3,3],[2,3],[16,5,6,5],[16,5,6,5],[1,0],[1,0],[8,4,2,4,2,4],[8,4,2,4,2,4]]}, "legend": {"title": null, "orient": "top-right", "offset": 0, "padding": 12, "fillColor": "white", "strokeColor": "black", "symbolType": "stroke", "symbolSize": 1681, "symbolStrokeWidth": 2.2, "clipHeight": 19, "labelFontSize": 19, "rowPadding": 2.2, "labelOffset": 6, "labelLimit": 300}}}},
 {"transform": [{"filter": {"field": "s", "oneOf": ["NCDC", "NARR"]}}], "mark": {"type": "point", "filled": false, "size": 520, "strokeWidth": 2, "opacity": 1, "clip": true}, "encoding": {"shape": {"field": "s", "type": "nominal", "scale": {"domain": ["NCDC", "NARR"], "range": ["M-1,-1L1,1M-1,1L1,-1", "M-1,0L1,0M0,-1L0,1"]}, "legend": null}}}
]
},
{
"title": "Dallas 100-year", "width": 1062, "height": 706,
"data": {"name": "storm"},
"transform": [{"filter": "datum.c == 'Dallas'"}],
"encoding": {
 "x": {"field": "d", "type": "quantitative", "title": "Duration (Hours)", "scale": {"type": "log", "domain": [2, 100], "nice": false}, "axis": {"values": [2,3,4,5,6,7,8,9,10,20,30,40,50,60,70,80,90,100], "format": "d", "labelFlush": false}},
 "y": {"field": "v", "type": "quantitative", "title": "Intensity (mm/hour)", "scale": {"domain": [0, 80], "nice": false, "zero": false}, "axis": {"values": [0,1,2,3,4,5,6,7,8,9,10,11,12,13,14,15,16,17,18,19,20,21,22,23,24,25,26,27,28,29,30,31,32,33,34,35,36,37,38,39,40,41,42,43,44,45,46,47,48,49,50,51,52,53,54,55,56,57,58,59,60,61,62,63,64,65,66,67,68,69,70,71,72,73,74,75,76,77,78,79,80], "labelExpr": "datum.value % 3 == 0 && datum.value <= 78 ? datum.label : ''", "gridColor": {"condition": {"test": "datum.value % 3 == 0", "value": "#c4c4c4"}, "value": "#dedede"}}},
 "color": {"field": "s", "type": "nominal", "scale": {"domain": ["HAD_HAD","WRFG_CCSM","CRCM_CCSM","CRCM_CGCM","RCM3_CGCM","RCM3_GFDL","Time_GFDL","NCDC","NARR"], "range": ["#ff0000","#ff9900","#000000","#000000","#ff00ff","#ff00ff","#00e000","#3f6ff0","#3f6ff0"]}, "legend": {"title": null, "orient": "top-right", "offset": 0, "padding": 12, "fillColor": "white", "strokeColor": "black", "symbolType": "stroke", "symbolSize": 1681, "symbolStrokeWidth": 2.2, "clipHeight": 19, "labelFontSize": 19, "rowPadding": 2.2, "labelOffset": 6, "labelLimit": 300}}
},
"layer": [
 {"mark": {"type": "line", "strokeWidth": 2, "clip": true}, "encoding": {"strokeDash": {"field": "s", "type": "nominal", "scale": {"domain": ["HAD_HAD","WRFG_CCSM","CRCM_CCSM","CRCM_CGCM","RCM3_CGCM","RCM3_GFDL","Time_GFDL","NCDC","NARR"], "range": [[16,6],[3,3],[2,3],[16,5,6,5],[16,5,6,5],[1,0],[1,0],[8,4,2,4,2,4],[8,4,2,4,2,4]]}, "legend": {"title": null, "orient": "top-right", "offset": 0, "padding": 12, "fillColor": "white", "strokeColor": "black", "symbolType": "stroke", "symbolSize": 1681, "symbolStrokeWidth": 2.2, "clipHeight": 19, "labelFontSize": 19, "rowPadding": 2.2, "labelOffset": 6, "labelLimit": 300}}}},
 {"transform": [{"filter": {"field": "s", "oneOf": ["NCDC", "NARR"]}}], "mark": {"type": "point", "filled": false, "size": 520, "strokeWidth": 2, "opacity": 1, "clip": true}, "encoding": {"shape": {"field": "s", "type": "nominal", "scale": {"domain": ["NCDC", "NARR"], "range": ["M-1,-1L1,1M-1,1L1,-1", "M-1,0L1,0M0,-1L0,1"]}, "legend": null}}}
]
},
{
"title": "Denver 100-year", "width": 1062, "height": 706,
"data": {"name": "storm"},
"transform": [{"filter": "datum.c == 'Denver'"}],
"encoding": {
 "x": {"field": "d", "type": "quantitative", "title": "Duration (Hours)", "scale": {"type": "log", "domain": [2, 100], "nice": false}, "axis": {"values": [2,3,4,5,6,7,8,9,10,20,30,40,50,60,70,80,90,100], "format": "d", "labelFlush": false}},
 "y": {"field": "v", "type": "quantitative", "title": "Intensity (mm/hour)", "scale": {"domain": [0, 53], "nice": false, "zero": false}, "axis": {"values": [0,1,2,3,4,5,6,7,8,9,10,11,12,13,14,15,16,17,18,19,20,21,22,23,24,25,26,27,28,29,30,31,32,33,34,35,36,37,38,39,40,41,42,43,44,45,46,47,48,49,50,51,52,53], "labelExpr": "datum.value % 2 == 0 && datum.value <= 52 ? datum.label : ''", "gridColor": {"condition": {"test": "datum.value % 2 == 0", "value": "#c4c4c4"}, "value": "#dedede"}}},
 "color": {"field": "s", "type": "nominal", "scale": {"domain": ["HAD_HAD","WRFG_CCSM","CRCM_CCSM","CRCM_CGCM","RCM3_CGCM","RCM3_GFDL","Time_GFDL","NCDC","NARR"], "range": ["#ff0000","#ff9900","#000000","#000000","#ff00ff","#ff00ff","#00e000","#3f6ff0","#3f6ff0"]}, "legend": {"title": null, "orient": "top-right", "offset": 0, "padding": 12, "fillColor": "white", "strokeColor": "black", "symbolType": "stroke", "symbolSize": 1681, "symbolStrokeWidth": 2.2, "clipHeight": 19, "labelFontSize": 19, "rowPadding": 2.2, "labelOffset": 6, "labelLimit": 300}}
},
"layer": [
 {"mark": {"type": "line", "strokeWidth": 2, "clip": true}, "encoding": {"strokeDash": {"field": "s", "type": "nominal", "scale": {"domain": ["HAD_HAD","WRFG_CCSM","CRCM_CCSM","CRCM_CGCM","RCM3_CGCM","RCM3_GFDL","Time_GFDL","NCDC","NARR"], "range": [[16,6],[3,3],[2,3],[16,5,6,5],[16,5,6,5],[1,0],[1,0],[8,4,2,4,2,4],[8,4,2,4,2,4]]}, "legend": {"title": null, "orient": "top-right", "offset": 0, "padding": 12, "fillColor": "white", "strokeColor": "black", "symbolType": "stroke", "symbolSize": 1681, "symbolStrokeWidth": 2.2, "clipHeight": 19, "labelFontSize": 19, "rowPadding": 2.2, "labelOffset": 6, "labelLimit": 300}}}},
 {"transform": [{"filter": {"field": "s", "oneOf": ["NCDC", "NARR"]}}], "mark": {"type": "point", "filled": false, "size": 520, "strokeWidth": 2, "opacity": 1, "clip": true}, "encoding": {"shape": {"field": "s", "type": "nominal", "scale": {"domain": ["NCDC", "NARR"], "range": ["M-1,-1L1,1M-1,1L1,-1", "M-1,0L1,0M0,-1L0,1"]}, "legend": null}}}
]
}
]
},
{
"spacing": 38,
"resolve": {"scale": {"color": "independent", "strokeDash": "independent", "shape": "independent"}},
"hconcat": [
{
"title": "Las Vegas 100-year", "width": 1062, "height": 706,
"data": {"name": "storm"},
"transform": [{"filter": "datum.c == 'Las Vegas'"}],
"encoding": {
 "x": {"field": "d", "type": "quantitative", "title": "Duration (Hours)", "scale": {"type": "log", "domain": [2, 100], "nice": false}, "axis": {"values": [2,3,4,5,6,7,8,9,10,20,30,40,50,60,70,80,90,100], "format": "d", "labelFlush": false}},
 "y": {"field": "v", "type": "quantitative", "title": "Intensity (mm/hour)", "scale": {"domain": [0, 18], "nice": false, "zero": false}, "axis": {"values": [0,1,2,3,4,5,6,7,8,9,10,11,12,13,14,15,16,17,18], "gridColor": "#c8c8c8"}},
 "color": {"field": "s", "type": "nominal", "scale": {"domain": ["HAD_HAD","WRFG_CCSM","CRCM_CCSM","CRCM_CGCM","RCM3_CGCM","RCM3_GFDL","Time_GFDL","NCDC","NARR"], "range": ["#ff0000","#ff9900","#000000","#000000","#ff00ff","#ff00ff","#00e000","#3f6ff0","#3f6ff0"]}, "legend": {"title": null, "orient": "top-right", "offset": 0, "padding": 12, "fillColor": "white", "strokeColor": "black", "symbolType": "stroke", "symbolSize": 1681, "symbolStrokeWidth": 2.2, "clipHeight": 19, "labelFontSize": 19, "rowPadding": 2.2, "labelOffset": 6, "labelLimit": 300}}
},
"layer": [
 {"mark": {"type": "line", "strokeWidth": 2, "clip": true}, "encoding": {"strokeDash": {"field": "s", "type": "nominal", "scale": {"domain": ["HAD_HAD","WRFG_CCSM","CRCM_CCSM","CRCM_CGCM","RCM3_CGCM","RCM3_GFDL","Time_GFDL","NCDC","NARR"], "range": [[16,6],[3,3],[2,3],[16,5,6,5],[16,5,6,5],[1,0],[1,0],[8,4,2,4,2,4],[8,4,2,4,2,4]]}, "legend": {"title": null, "orient": "top-right", "offset": 0, "padding": 12, "fillColor": "white", "strokeColor": "black", "symbolType": "stroke", "symbolSize": 1681, "symbolStrokeWidth": 2.2, "clipHeight": 19, "labelFontSize": 19, "rowPadding": 2.2, "labelOffset": 6, "labelLimit": 300}}}},
 {"transform": [{"filter": {"field": "s", "oneOf": ["NCDC", "NARR"]}}], "mark": {"type": "point", "filled": false, "size": 520, "strokeWidth": 2, "opacity": 1, "clip": true}, "encoding": {"shape": {"field": "s", "type": "nominal", "scale": {"domain": ["NCDC", "NARR"], "range": ["M-1,-1L1,1M-1,1L1,-1", "M-1,0L1,0M0,-1L0,1"]}, "legend": null}}}
]
},
{
"title": "Orlando 100-year", "width": 1062, "height": 706,
"data": {"name": "storm"},
"transform": [{"filter": "datum.c == 'Orlando'"}],
"encoding": {
 "x": {"field": "d", "type": "quantitative", "title": "Duration (Hours)", "scale": {"type": "log", "domain": [2, 100], "nice": false}, "axis": {"values": [2,3,4,5,6,7,8,9,10,20,30,40,50,60,70,80,90,100], "format": "d", "labelFlush": false}},
 "y": {"field": "v", "type": "quantitative", "title": "Intensity (mm/hour)", "scale": {"domain": [1, 95], "nice": false, "zero": false}, "axis": {"values": [1,2,3,4,5,6,7,8,9,10,11,12,13,14,15,16,17,18,19,20,21,22,23,24,25,26,27,28,29,30,31,32,33,34,35,36,37,38,39,40,41,42,43,44,45,46,47,48,49,50,51,52,53,54,55,56,57,58,59,60,61,62,63,64,65,66,67,68,69,70,71,72,73,74,75,76,77,78,79,80,81,82,83,84,85,86,87,88,89,90,91,92,93,94,95], "labelExpr": "(datum.value - 1) % 4 == 0 && datum.value <= 93 ? datum.label : ''", "gridColor": {"condition": {"test": "(datum.value - 1) % 4 == 0", "value": "#c4c4c4"}, "value": "#dedede"}}},
 "color": {"field": "s", "type": "nominal", "scale": {"domain": ["HAD_HAD","WRFG_CCSM","CRCM_CCSM","CRCM_CGCM","RCM3_CGCM","RCM3_GFDL","Time_GFDL","NCDC","NARR"], "range": ["#ff0000","#ff9900","#000000","#000000","#ff00ff","#ff00ff","#00e000","#3f6ff0","#3f6ff0"]}, "legend": {"title": null, "orient": "top-right", "offset": 0, "padding": 12, "fillColor": "white", "strokeColor": "black", "symbolType": "stroke", "symbolSize": 1681, "symbolStrokeWidth": 2.2, "clipHeight": 19, "labelFontSize": 19, "rowPadding": 2.2, "labelOffset": 6, "labelLimit": 300}}
},
"layer": [
 {"mark": {"type": "line", "strokeWidth": 2, "clip": true}, "encoding": {"strokeDash": {"field": "s", "type": "nominal", "scale": {"domain": ["HAD_HAD","WRFG_CCSM","CRCM_CCSM","CRCM_CGCM","RCM3_CGCM","RCM3_GFDL","Time_GFDL","NCDC","NARR"], "range": [[16,6],[3,3],[2,3],[16,5,6,5],[16,5,6,5],[1,0],[1,0],[8,4,2,4,2,4],[8,4,2,4,2,4]]}, "legend": {"title": null, "orient": "top-right", "offset": 0, "padding": 12, "fillColor": "white", "strokeColor": "black", "symbolType": "stroke", "symbolSize": 1681, "symbolStrokeWidth": 2.2, "clipHeight": 19, "labelFontSize": 19, "rowPadding": 2.2, "labelOffset": 6, "labelLimit": 300}}}},
 {"transform": [{"filter": {"field": "s", "oneOf": ["NCDC", "NARR"]}}], "mark": {"type": "point", "filled": false, "size": 520, "strokeWidth": 2, "opacity": 1, "clip": true}, "encoding": {"shape": {"field": "s", "type": "nominal", "scale": {"domain": ["NCDC", "NARR"], "range": ["M-1,-1L1,1M-1,1L1,-1", "M-1,0L1,0M0,-1L0,1"]}, "legend": null}}}
]
},
{
"title": "Portland 100-year", "width": 1062, "height": 706,
"data": {"name": "storm"},
"transform": [{"filter": "datum.c == 'Portland'"}],
"encoding": {
 "x": {"field": "d", "type": "quantitative", "title": "Duration (Hours)", "scale": {"type": "log", "domain": [2, 100], "nice": false}, "axis": {"values": [2,3,4,5,6,7,8,9,10,20,30,40,50,60,70,80,90,100], "format": "d", "labelFlush": false}},
 "y": {"field": "v", "type": "quantitative", "title": "Intensity (mm/hour)", "scale": {"domain": [1, 16], "nice": false, "zero": false}, "axis": {"values": [1,2,3,4,5,6,7,8,9,10,11,12,13,14,15,16], "gridColor": "#c8c8c8"}},
 "color": {"field": "s", "type": "nominal", "scale": {"domain": ["HAD_HAD","WRFG_CCSM","CRCM_CCSM","CRCM_CGCM","RCM3_CGCM","RCM3_GFDL","Time_GFDL","NCDC","NARR"], "range": ["#ff0000","#ff9900","#000000","#000000","#ff00ff","#ff00ff","#00e000","#3f6ff0","#3f6ff0"]}, "legend": {"title": null, "orient": "top-right", "offset": 0, "padding": 12, "fillColor": "white", "strokeColor": "black", "symbolType": "stroke", "symbolSize": 1681, "symbolStrokeWidth": 2.2, "clipHeight": 19, "labelFontSize": 19, "rowPadding": 2.2, "labelOffset": 6, "labelLimit": 300}}
},
"layer": [
 {"mark": {"type": "line", "strokeWidth": 2, "clip": true}, "encoding": {"strokeDash": {"field": "s", "type": "nominal", "scale": {"domain": ["HAD_HAD","WRFG_CCSM","CRCM_CCSM","CRCM_CGCM","RCM3_CGCM","RCM3_GFDL","Time_GFDL","NCDC","NARR"], "range": [[16,6],[3,3],[2,3],[16,5,6,5],[16,5,6,5],[1,0],[1,0],[8,4,2,4,2,4],[8,4,2,4,2,4]]}, "legend": {"title": null, "orient": "top-right", "offset": 0, "padding": 12, "fillColor": "white", "strokeColor": "black", "symbolType": "stroke", "symbolSize": 1681, "symbolStrokeWidth": 2.2, "clipHeight": 19, "labelFontSize": 19, "rowPadding": 2.2, "labelOffset": 6, "labelLimit": 300}}}},
 {"transform": [{"filter": {"field": "s", "oneOf": ["NCDC", "NARR"]}}], "mark": {"type": "point", "filled": false, "size": 520, "strokeWidth": 2, "opacity": 1, "clip": true}, "encoding": {"shape": {"field": "s", "type": "nominal", "scale": {"domain": ["NCDC", "NARR"], "range": ["M-1,-1L1,1M-1,1L1,-1", "M-1,0L1,0M0,-1L0,1"]}, "legend": null}}}
]
}
]
},
{
"spacing": 62,
"resolve": {"scale": {"color": "independent", "strokeDash": "independent", "shape": "independent"}},
"hconcat": [
{
"title": "St. Paul 100-year", "width": 1062, "height": 706,
"data": {"name": "storm"},
"transform": [{"filter": "datum.c == 'St. Paul'"}],
"encoding": {
 "x": {"field": "d", "type": "quantitative", "title": "Duration (Hours)", "scale": {"type": "log", "domain": [2, 100], "nice": false}, "axis": {"values": [2,3,4,5,6,7,8,9,10,20,30,40,50,60,70,80,90,100], "format": "d", "labelFlush": false}},
 "y": {"field": "v", "type": "quantitative", "title": "Intensity (mm/hour)", "scale": {"domain": [1, 54], "nice": false, "zero": false}, "axis": {"values": [1,2,3,4,5,6,7,8,9,10,11,12,13,14,15,16,17,18,19,20,21,22,23,24,25,26,27,28,29,30,31,32,33,34,35,36,37,38,39,40,41,42,43,44,45,46,47,48,49,50,51,52,53,54], "labelExpr": "datum.value % 2 == 1 ? datum.label : ''", "gridColor": {"condition": {"test": "datum.value % 2 == 1", "value": "#c4c4c4"}, "value": "#dedede"}}},
 "color": {"field": "s", "type": "nominal", "scale": {"domain": ["HAD_HAD","WRFG_CCSM","CRCM_CCSM","CRCM_CGCM","RCM3_CGCM","RCM3_GFDL","Time_GFDL","NCDC","NARR"], "range": ["#ff0000","#ff9900","#000000","#000000","#ff00ff","#ff00ff","#00e000","#3f6ff0","#3f6ff0"]}, "legend": {"title": null, "orient": "top-right", "offset": 0, "padding": 12, "fillColor": "white", "strokeColor": "black", "symbolType": "stroke", "symbolSize": 1681, "symbolStrokeWidth": 2.2, "clipHeight": 19, "labelFontSize": 19, "rowPadding": 2.2, "labelOffset": 6, "labelLimit": 300}}
},
"layer": [
 {"mark": {"type": "line", "strokeWidth": 2, "clip": true}, "encoding": {"strokeDash": {"field": "s", "type": "nominal", "scale": {"domain": ["HAD_HAD","WRFG_CCSM","CRCM_CCSM","CRCM_CGCM","RCM3_CGCM","RCM3_GFDL","Time_GFDL","NCDC","NARR"], "range": [[16,6],[3,3],[2,3],[16,5,6,5],[16,5,6,5],[1,0],[1,0],[8,4,2,4,2,4],[8,4,2,4,2,4]]}, "legend": {"title": null, "orient": "top-right", "offset": 0, "padding": 12, "fillColor": "white", "strokeColor": "black", "symbolType": "stroke", "symbolSize": 1681, "symbolStrokeWidth": 2.2, "clipHeight": 19, "labelFontSize": 19, "rowPadding": 2.2, "labelOffset": 6, "labelLimit": 300}}}},
 {"transform": [{"filter": {"field": "s", "oneOf": ["NCDC", "NARR"]}}], "mark": {"type": "point", "filled": false, "size": 520, "strokeWidth": 2, "opacity": 1, "clip": true}, "encoding": {"shape": {"field": "s", "type": "nominal", "scale": {"domain": ["NCDC", "NARR"], "range": ["M-1,-1L1,1M-1,1L1,-1", "M-1,0L1,0M0,-1L0,1"]}, "legend": null}}}
]
},
{
"bounds": "flush",
"spacing": 10,
"vconcat": [
{
"width": 1700, "height": 109,
"view": {"stroke": null},
"data": {"name": "names"},
"mark": {"type": "line", "strokeWidth": 2.5},
"encoding": {
   "color": {"field": "name", "type": "nominal", "scale": {"domain": ["HRM3_HADCM3","WRFG_CCSM","CRCM_CCSM","CRCM_CGCM3","RCM3_CGCM3","RCM3_GFDL","Timeslice_GFDL","NCDC","NARR"], "range": ["#ff0000","#ff9900","#000000","#000000","#ff00ff","#ff00ff","#00e000","#3f6ff0","#3f6ff0"]}, "legend": {"title": null, "orient": "none", "legendX": -627, "legendY": 36, "padding": 25, "fillColor": "white", "strokeColor": "black", "symbolType": "stroke", "symbolSize": 9604, "symbolStrokeWidth": 2.5, "clipHeight": 57, "labelFontSize": 57, "rowPadding": 12, "labelOffset": 19, "labelLimit": 700}},
   "strokeDash": {"field": "name", "type": "nominal", "scale": {"domain": ["HRM3_HADCM3","WRFG_CCSM","CRCM_CCSM","CRCM_CGCM3","RCM3_CGCM3","RCM3_GFDL","Timeslice_GFDL","NCDC","NARR"], "range": [[16,6],[3,3],[2,3],[16,5,6,5],[16,5,6,5],[1,0],[1,0],[8,4,2,4,2,4],[8,4,2,4,2,4]]}, "legend": {"title": null, "orient": "none", "legendX": -627, "legendY": 36, "padding": 25, "fillColor": "white", "strokeColor": "black", "symbolType": "stroke", "symbolSize": 9604, "symbolStrokeWidth": 2.5, "clipHeight": 57, "labelFontSize": 57, "rowPadding": 12, "labelOffset": 19, "labelLimit": 700}}
}
},
{
"width": 1700, "height": 485,
"view": {"stroke": "#444444", "strokeWidth": 2},
"data": {"name": "caption"},
"mark": {"type": "text", "align": "left", "baseline": "middle", "fontSize": 63, "lineHeight": 76.5, "font": "Liberation Sans", "color": "black", "dx": 20, "dy": -191},
"encoding": {
   "text": {"field": "t"},
   "x": {"datum": 0, "type": "quantitative", "scale": {"domain": [0, 1]}, "axis": null}
}
}
]
}
]
}
]
}
